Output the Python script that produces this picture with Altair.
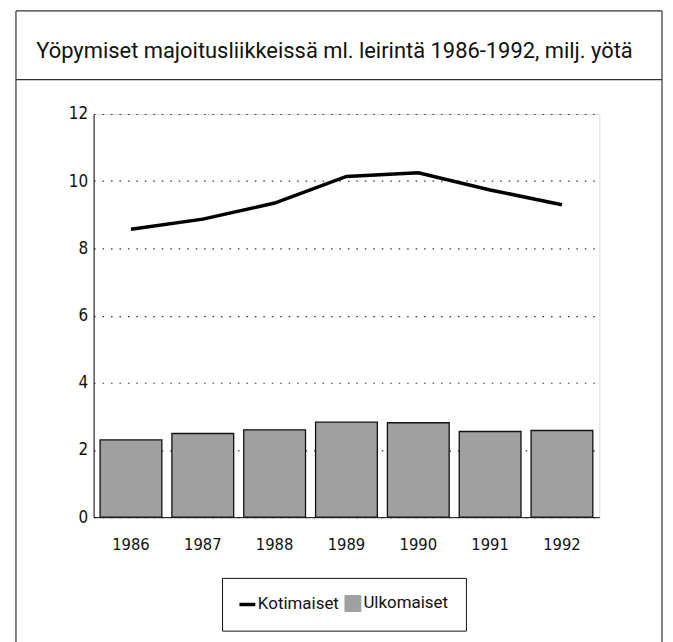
import altair as alt
import pandas as pd

years = ["1986", "1987", "1988", "1989", "1990", "1991", "1992"]
kotimaiset = [8.57, 8.87, 9.35, 10.14, 10.25, 9.74, 9.30]
ulkomaiset = [2.30, 2.49, 2.60, 2.83, 2.81, 2.55, 2.58]
series = ["Kotimaiset", "Ulkomaiset"]
y_ticks = [0, 2, 4, 6, 8, 10, 12]
title_text = "Yöpymiset majoitusliikkeissä ml. leirintä 1986-1992, milj. yötä"

AXIS_FONT = "DejaVu Sans Condensed, DejaVu Sans, sans-serif"
TEXT_FONT = "Roboto, Liberation Sans, sans-serif"

line_df = pd.DataFrame({"vuosi": years, "arvo": kotimaiset, "sarja": series[0]})
bar_df = pd.DataFrame({"vuosi": years, "arvo": ulkomaiset, "sarja": series[1]})
one = pd.DataFrame({"k": [0]})

BAR_FILL = "#a0a0a0"
IS_LINE = "datum.value === 'Kotimaiset'"

x_enc = alt.X(
    "vuosi:N",
    sort=years,
    title=None,
    scale=alt.Scale(paddingInner=0.14, paddingOuter=0.09),
    axis=alt.Axis(labelAngle=0, ticks=False, labelPadding=19, labelFontSize=16.5,
                  labelFont=AXIS_FONT, labelColor="#111", domainColor="#111", grid=False),
)
y_enc = alt.Y(
    "arvo:Q",
    title=None,
    scale=alt.Scale(domain=[0, 12], nice=False),
    axis=alt.Axis(values=y_ticks, ticks=False, labelPadding=6, labelFontSize=17,
                  labelFont=AXIS_FONT, labelColor="#111", domainColor="#111",
                  grid=True, gridColor="#333", gridDash=[1.5, 7], gridWidth=1.2),
)
color_enc = alt.Color(
    "sarja:N",
    scale=alt.Scale(domain=series, range=["#000000", BAR_FILL]),
    legend=alt.Legend(
        title=None,
        orient="none",
        legendX=129,
        legendY=466,
        direction="horizontal",
        strokeColor="#111",
        fillColor="white",
        padding=17,
        labelFont=TEXT_FONT,
        labelFontSize=17,
        labelColor="#111",
        labelOffset=2,
        columnPadding=3,
        symbolSize=256,
        symbolOpacity=1,
        symbolType=alt.ExprRef(expr=IS_LINE + " ? 'stroke' : 'square'"),
        symbolFillColor=alt.ExprRef(expr=IS_LINE + " ? 'transparent' : '" + BAR_FILL + "'"),
        symbolStrokeColor="#000",
        symbolStrokeWidth=alt.ExprRef(expr=IS_LINE + " ? 3.5 : 1"),
    ),
)

bars = alt.Chart(bar_df).mark_bar(stroke="#111", strokeWidth=1.3, opacity=1).encode(
    x=x_enc, y=y_enc, color=color_enc
)
line = alt.Chart(line_df).mark_line(strokeWidth=3.5).encode(
    x=alt.X("vuosi:N", sort=years), y="arvo:Q", color=color_enc
)

# title text, decorative outer frame and title separator
title = alt.Chart(one).mark_text(
    font=TEXT_FONT, fontSize=22, color="#111", align="center", baseline="alphabetic"
).encode(x=alt.value(242), y=alt.value(-56), text=alt.value(title_text))
frame_left = alt.Chart(one).mark_rule(color="#333", strokeWidth=1.2).encode(
    x=alt.value(-78), y=alt.value(-103.5), y2=alt.value(560))
frame_right = alt.Chart(one).mark_rule(color="#333", strokeWidth=1.2).encode(
    x=alt.value(571), y=alt.value(-103.5), y2=alt.value(560))
frame_top = alt.Chart(one).mark_rule(color="#333", strokeWidth=1.2).encode(
    x=alt.value(-78), x2=alt.value(571), y=alt.value(-103.5))
separator = alt.Chart(one).mark_rule(color="#333", strokeWidth=1.2).encode(
    x=alt.value(-78), x2=alt.value(571), y=alt.value(-34.5))

chart = alt.layer(bars, line, title, frame_left, frame_right, frame_top, separator).properties(
    width=508,
    height=405,
    padding={"left": 86, "top": 105, "right": 66, "bottom": 140},
    autosize=alt.AutoSizeParams(type="none"),
).configure_view(stroke="#111", strokeWidth=1.2).configure(background="white")

chart.save("out.html", embed_options={"renderer": "svg", "actions": False})
